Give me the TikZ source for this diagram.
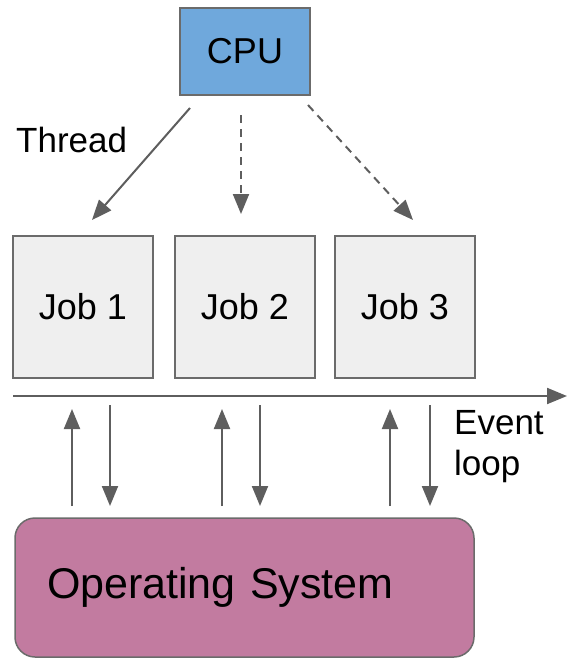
\documentclass[tikz,border=0pt]{standalone}
\usepackage{fontspec}
\setmainfont{Liberation Sans}
\usetikzlibrary{arrows.meta}
\definecolor{linegray}{HTML}{5E5E5E}
\definecolor{edgegray}{HTML}{6B6B6B}
\definecolor{cpublue}{HTML}{6FA8DC}
\definecolor{jobgray}{HTML}{EFEFEF}
\definecolor{ospink}{HTML}{C27BA0}
\begin{document}
\begin{tikzpicture}[x=1pt,y=-1pt,
  txt/.style={font=\fontsize{35}{41}\selectfont, text=black},
  cpubox/.style={draw=edgegray, line width=1.5pt, fill=cpublue, minimum width=130pt, minimum height=87pt, inner sep=0pt, outer sep=0pt, font=\fontsize{36}{41}\selectfont},
  jobbox/.style={draw=edgegray, line width=1.5pt, fill=jobgray, minimum width=140pt, minimum height=142pt, inner sep=0pt, outer sep=0pt, font=\fontsize{36}{41}\selectfont},
  osbox/.style={draw=edgegray, line width=1.5pt, fill=ospink, rounded corners=20pt, minimum height=139pt, text width=395pt, inner xsep=32pt, inner ysep=0pt, outer sep=0pt, align=left, font=\fontsize{43}{50}\selectfont},
  conn/.style={draw=linegray, line width=2pt, -{Triangle[length=20pt,width=16pt]}},
  dashedconn/.style={conn, dash pattern=on 8pt off 6pt},
]
\useasboundingbox (0,0) rectangle (568,659);
\node[cpubox] (cpu) at (245,51.5) {CPU};
\node[jobbox] (job1) at (83,307) {Job 1};
\node[jobbox] (job2) at (245,307) {Job 2};
\node[jobbox] (job3) at (405,307) {Job 3};
\node[osbox] (os) at (244.5,587.5) {Operating System};
\node[txt, anchor=west, inner sep=0pt] (thread) at (16,140) {Thread};
\node[txt, anchor=west, align=left, inner sep=0pt] (evlabel) at (454,447) {Event\\loop};

% thread arrows
\draw[conn] ([shift={(10,13)}]cpu.south west) -- ([shift={(9,-16)}]job1.north);
\draw[dashedconn] ([shift={(-4,20)}]cpu.south) -- ([shift={(-4,-22)}]job2.north);
\draw[dashedconn] ([shift={(-2,10)}]cpu.south east) -- ([shift={(8,-16)}]job3.north);

% event loop
\coordinate (elstart) at (13,396);
\coordinate (elend) at (567,396);
\draw[conn] (elstart) -- (elend);

% os <-> jobs
\draw[conn] ([shift={(57,-12)}]os.north west) -- ([shift={(-11,31)}]job1.south);
\draw[conn] ([shift={(27,27)}]job1.south) -- ([shift={(95,-12)}]os.north west);
\draw[conn] ([shift={(207,-12)}]os.north west) -- ([shift={(-23,31)}]job2.south);
\draw[conn] ([shift={(15,27)}]job2.south) -- ([shift={(245,-12)}]os.north west);
\draw[conn] ([shift={(375,-12)}]os.north west) -- ([shift={(-15,31)}]job3.south);
\draw[conn] ([shift={(25,27)}]job3.south) -- ([shift={(415,-12)}]os.north west);
\end{tikzpicture}
\end{document}
